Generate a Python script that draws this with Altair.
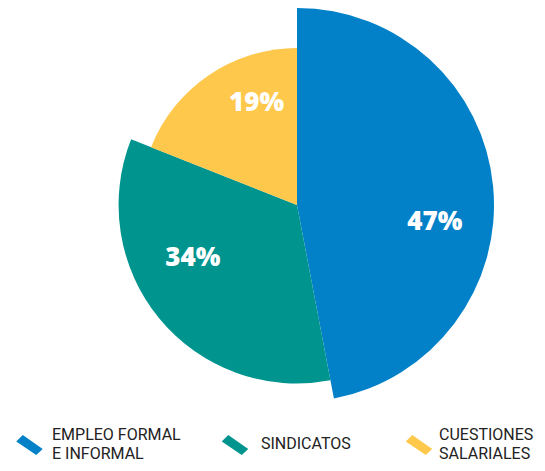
import math
import altair as alt
import pandas as pd

categories = ["EMPLEO FORMAL\nE INFORMAL", "SINDICATOS", "CUESTIONES\nSALARIALES"]
values = [47, 34, 19]
labels = ["47%", "34%", "19%"]
colors = ["#0281c8", "#00948e", "#fdc84b"]

df = pd.DataFrame({"cat": categories, "value": values, "label": labels, "order": [0, 1, 2]})

bar_path = "M-1,-0.27 L-0.51,-0.76 L1,0.3 L0.51,0.76 Z"

color_scale = alt.Scale(domain=categories, range=colors)
theta_scale = alt.Scale(domain=[0, 100], range=[0, 2 * math.pi])

base = alt.Chart(df).transform_window(
    cum="sum(value)", sort=[alt.SortField("order")], frame=[None, 0]
).transform_calculate(
    start="datum.cum - datum.value",
    mid="datum.cum - datum.value / 2",
    lines="length(split(datum.cat, '\\n'))",
)

cx, cy = 289, 197

arc = base.mark_arc(strokeWidth=0).encode(
    theta=alt.Theta("start:Q", scale=theta_scale),
    theta2="cum:Q",
    radius=alt.Radius("value:Q", stack=None,
                      scale=alt.Scale(type="linear", domain=[19, 47], range=[157, 197],
                                      zero=False, nice=False)),
    radius2=alt.value(0),
    color=alt.Color("cat:N", scale=color_scale, legend=None),
    x=alt.value(cx),
    y=alt.value(cy),
)

pct = base.mark_text(font="Open Sans", fontWeight=800, fontSize=26, color="white",
                     thetaOffset=0.22).encode(
    theta=alt.Theta("mid:Q", scale=theta_scale),
    radius=alt.Radius("value:Q", stack=None,
                      scale=alt.Scale(type="linear", domain=[19, 34, 47], range=[110, 117, 139],
                                      zero=False, nice=False)),
    text="label:N",
    x=alt.value(cx),
    y=alt.value(cy),
)

sym = base.mark_point(shape=bar_path, filled=True, size=700, opacity=1, strokeWidth=0).encode(
    x=alt.X("order:Q", scale=alt.Scale(domain=[0, 1, 2], range=[21.5, 227, 411], nice=False, zero=False),
            axis=None),
    y=alt.value(437),
    color=alt.Color("cat:N", scale=color_scale, legend=None),
)

leg_text = base.mark_text(font="Roboto", fontSize=16, color="#222222", align="left",
                          baseline="middle", lineBreak="\n", lineHeight=19).encode(
    x=alt.X("order:Q", scale=alt.Scale(domain=[0, 1, 2], range=[44, 253, 431], nice=False, zero=False),
            axis=None),
    y=alt.Y("lines:Q", scale=alt.Scale(domain=[1, 2], range=[436, 427], nice=False, zero=False),
            axis=None),
    text="cat:N",
)

chart = alt.layer(arc, pct, sym, leg_text).resolve_scale(
    radius="independent", x="independent", y="independent"
).properties(
    width=529, height=455, padding=0, autosize=alt.AutoSizeParams(type="none")
).configure_view(stroke=None)

chart.save("out.html", embed_options={"renderer": "svg", "actions": False})
